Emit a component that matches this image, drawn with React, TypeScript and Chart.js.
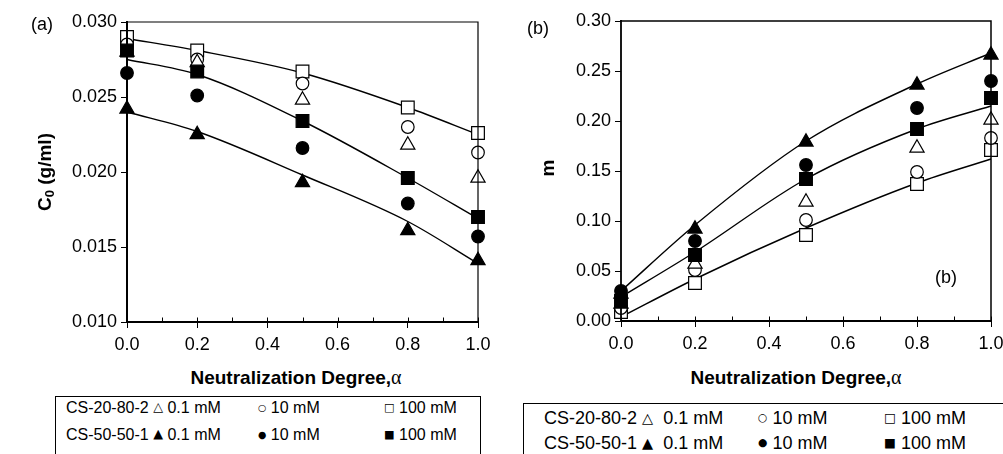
import React, { useEffect, useRef } from "react";
import { Chart, registerables } from "chart.js";

Chart.register(...registerables);

// Neutralization degree (x values)
const alphaValues = [0, 0.2, 0.5, 0.8, 1.0];

// Panel (a): C0 (g/ml)
const c0_2080_01 = [0.028, 0.0273, 0.0248, 0.0218, 0.0196];
const c0_2080_10 = [0.0285, 0.0275, 0.0259, 0.023, 0.0213];
const c0_2080_100 = [0.029, 0.0281, 0.0267, 0.0243, 0.0226];
const c0_5050_01 = [0.0242, 0.0225, 0.0193, 0.0161, 0.0141];
const c0_5050_10 = [0.0266, 0.0251, 0.0216, 0.0179, 0.0157];
const c0_5050_100 = [0.0281, 0.0267, 0.0234, 0.0196, 0.017];
const c0_fitTop = [0.0289, 0.0281, 0.0266, 0.0243, 0.0225];
const c0_fitMid = [0.0275, 0.0265, 0.0234, 0.0196, 0.0169];
const c0_fitBot = [0.024, 0.0227, 0.0198, 0.0167, 0.0139];

// Panel (b): m
const m_2080_01 = [0.017, 0.057, 0.119, 0.173, 0.201];
const m_2080_10 = [0.013, 0.051, 0.101, 0.149, 0.183];
const m_2080_100 = [0.009, 0.038, 0.086, 0.137, 0.171];
const m_5050_01 = [0.027, 0.092, 0.179, 0.236, 0.266];
const m_5050_10 = [0.03, 0.08, 0.156, 0.213, 0.24];
const m_5050_100 = [0.02, 0.066, 0.142, 0.192, 0.223];
const m_fitTop = [0.03, 0.096, 0.18, 0.237, 0.268];
const m_fitMid = [0.024, 0.069, 0.142, 0.192, 0.215];
const m_fitBot = [0.004, 0.042, 0.093, 0.138, 0.162];

const xTickValues = [0, 0.2, 0.4, 0.6, 0.8, 1.0];

const FONT = '"Liberation Sans", Arial, Helvetica, sans-serif';

const toPts = (ys: number[]) => alphaValues.map((x, i) => ({ x, y: ys[i] }));

function marker(label: string, ys: number[], style: string, filled: boolean) {
  const r = style === "rect" ? 9 : style === "circle" ? 6.3 : 8.2;
  return {
    type: "scatter",
    label,
    data: toPts(ys),
    showLine: false,
    pointStyle: style,
    pointRadius: r,
    pointHoverRadius: r,
    pointBackgroundColor: filled ? "#000" : "#fff",
    pointBorderColor: "#000",
    pointBorderWidth: 1.2,
    clip: false,
    order: filled ? 1 : 2,
  };
}

function fit(ys: number[]) {
  return {
    type: "scatter",
    label: "fit",
    data: toPts(ys),
    showLine: true,
    pointRadius: 0,
    borderColor: "#000",
    borderWidth: 1.4,
    cubicInterpolationMode: "monotone",
    fill: false,
    clip: false,
    order: 10,
  };
}

const framePlugin = {
  id: "frame",
  afterDatasetsDraw(chart: any, _args: any, opts: any) {
    const { ctx, chartArea } = chart;
    const { left, right, top, bottom } = chartArea;
    const xs = chart.scales.x;
    ctx.save();
    ctx.strokeStyle = "#000";
    ctx.lineCap = "square";
    ctx.lineWidth = opts.thin || 1.3;
    ctx.beginPath();
    ctx.moveTo(left, top);
    ctx.lineTo(right, top);
    ctx.lineTo(right, bottom);
    ctx.stroke();
    ctx.lineWidth = opts.thick || 2;
    ctx.beginPath();
    ctx.moveTo(left, top);
    ctx.lineTo(left, bottom);
    ctx.lineTo(right, bottom);
    ctx.stroke();
    ctx.lineWidth = 1;
    for (let k = 0; k <= 10; k++) {
      const px = Math.round(xs.getPixelForValue(k / 10)) + 0.5;
      ctx.beginPath();
      ctx.moveTo(px, bottom);
      ctx.lineTo(px, bottom - 4);
      ctx.stroke();
    }
    ctx.restore();
  },
};

function makeConfig(
  datasets: any[],
  yMin: number,
  yMax: number,
  yStep: number,
  yDec: number,
  pad: any,
  yWidth: number,
  xHeight: number,
  frameOpts: any
) {
  return {
    type: "scatter",
    data: { datasets },
    plugins: [framePlugin],
    options: {
      responsive: false,
      animation: false,
      events: [],
      layout: { padding: pad },
      plugins: {
        legend: { display: false },
        tooltip: { enabled: false },
        frame: frameOpts,
      },
      scales: {
        x: {
          type: "linear",
          min: 0,
          max: 1,
          afterBuildTicks: (s: any) => {
            s.ticks = xTickValues.map((v) => ({ value: v }));
          },
          afterFit: (s: any) => {
            s.height = xHeight;
          },
          ticks: {
            color: "#000",
            font: { family: FONT, size: 18 },
            padding: 6,
            maxRotation: 0,
            callback: (v: any) => Number(v).toFixed(1),
          },
          grid: {
            display: true,
            drawOnChartArea: false,
            tickLength: 6,
            color: "#000",
            lineWidth: 1,
          },
          border: { display: false },
        },
        y: {
          type: "linear",
          min: yMin,
          max: yMax,
          ticks: {
            stepSize: yStep,
            color: "#000",
            font: { family: FONT, size: 18 },
            padding: 4,
            callback: (v: any) => Number(v).toFixed(yDec),
          },
          afterFit: (s: any) => {
            s.width = yWidth;
          },
          grid: {
            display: true,
            drawOnChartArea: false,
            tickLength: 6,
            color: "#000",
            lineWidth: 1,
          },
          border: { display: false },
        },
      },
    },
  };
}

const titleStyle: React.CSSProperties = {
  position: "absolute",
  fontFamily: FONT,
  fontWeight: "bold",
  fontSize: 19,
  color: "#000",
  whiteSpace: "nowrap",
  lineHeight: 1,
};

const labelStyle: React.CSSProperties = {
  position: "absolute",
  fontFamily: FONT,
  fontSize: 18,
  color: "#000",
  whiteSpace: "nowrap",
  lineHeight: 1,
};

function XTitle({ cx, cy }: { cx: number; cy: number }) {
  return (
    <div
      style={{
        ...titleStyle,
        left: cx,
        top: cy,
        transform: "translate(-50%, -50%)",
      }}
    >
      Neutralization Degree,
      <span style={{ fontFamily: '"Liberation Serif", "Times New Roman", serif', fontWeight: "normal", fontSize: 20 }}>α</span>
    </div>
  );
}

function LegendBox({
  left,
  top,
  width,
  size,
  cols,
  rows,
  sep,
}: {
  left: number;
  top: number;
  width: number;
  size: number;
  cols: number[];
  rows: number[];
  sep: string;
}) {
  const glyph = (g: string, scale: number) => (
    <span style={{ fontSize: size * scale, fontFamily: '"DejaVu Sans", sans-serif', verticalAlign: "middle", position: "relative", top: -1 }}>{g}</span>
  );
  const cell = (x: number, y: number, g: string, gs: number, text: string, pre: string, key: string) => (
    <span key={key} style={{ position: "absolute", left: x, top: y, fontFamily: FONT, fontSize: size, lineHeight: 1, whiteSpace: "pre", color: "#000" }}>
      {pre}
      {glyph(g, gs)}
      {text}
    </span>
  );
  return (
    <div
      style={{
        position: "absolute",
        left,
        top,
        width,
        height: 90,
        border: "1px solid #000",
        boxSizing: "border-box",
        background: "#fff",
      }}
    >
      {cell(cols[0], rows[0], "\u25B3", 0.8, sep + "0.1 mM", "CS-20-80-2 ", "a1")}
      {cell(cols[1], rows[0], "\u25CB", 0.6, " 10 mM", "", "a2")}
      {cell(cols[2], rows[0], "\u25A1", 0.7, " 100 mM", "", "a3")}
      {cell(cols[0], rows[1], "\u25B2", 0.8, sep + "0.1 mM", "CS-50-50-1 ", "b1")}
      {cell(cols[1], rows[1], "\u25CF", 0.6, " 10 mM", "", "b2")}
      {cell(cols[2], rows[1], "\u25A0", 0.7, " 100 mM", "", "b3")}
    </div>
  );
}

export default function App() {
  const refA = useRef<HTMLCanvasElement>(null);
  const refB = useRef<HTMLCanvasElement>(null);

  useEffect(() => {
    document.body.style.margin = "0";
    const dsA = [
      fit(c0_fitTop),
      fit(c0_fitMid),
      fit(c0_fitBot),
      marker("CS-20-80-2 0.1 mM", c0_2080_01, "triangle", false),
      marker("CS-20-80-2 10 mM", c0_2080_10, "circle", false),
      marker("CS-20-80-2 100 mM", c0_2080_100, "rect", false),
      marker("CS-50-50-1 0.1 mM", c0_5050_01, "triangle", true),
      marker("CS-50-50-1 10 mM", c0_5050_10, "circle", true),
      marker("CS-50-50-1 100 mM", c0_5050_100, "rect", true),
    ];
    const dsB = [
      fit(m_fitTop),
      fit(m_fitMid),
      fit(m_fitBot),
      marker("CS-20-80-2 0.1 mM", m_2080_01, "triangle", false),
      marker("CS-20-80-2 10 mM", m_2080_10, "circle", false),
      marker("CS-20-80-2 100 mM", m_2080_100, "rect", false),
      marker("CS-50-50-1 0.1 mM", m_5050_01, "triangle", true),
      marker("CS-50-50-1 10 mM", m_5050_10, "circle", true),
      marker("CS-50-50-1 100 mM", m_5050_100, "rect", true),
    ];
    const cfgA = makeConfig(dsA, 0.01, 0.03, 0.005, 3, { left: 0, right: 22, top: 22, bottom: 0 }, 127, 38, { thick: 2, thin: 1.2 });
    const cfgB = makeConfig(dsB, 0, 0.3, 0.05, 2, { left: 0, right: 49, top: 21, bottom: 0 }, 121, 39, { thick: 1.8, thin: 1.5 });
    const a = new Chart(refA.current as any, cfgA as any);
    const b = new Chart(refB.current as any, cfgB as any);
    return () => {
      a.destroy();
      b.destroy();
    };
  }, []);

  return (
    <div style={{ position: "relative", width: 1003, height: 454, overflow: "hidden", background: "#fff" }}>
      <canvas ref={refA} width={500} height={360} style={{ position: "absolute", left: 0, top: 0 }} />
      <canvas ref={refB} width={540} height={360} style={{ position: "absolute", left: 500, top: 0 }} />

      {/* Panel (a) texts */}
      <div style={{ ...labelStyle, left: 31, top: 15 }}>(a)</div>
      <div style={{ ...titleStyle, left: 44, top: 172, transform: "translate(-50%, -50%) rotate(-90deg)" }}>
        C<sub style={{ fontSize: 13, verticalAlign: "-3px", lineHeight: 0 }}>0</sub> (g/ml)
      </div>
      <XTitle cx={296} cy={377} />

      {/* Panel (b) texts */}
      <div style={{ ...labelStyle, left: 527, top: 19 }}>(b)</div>
      <div style={{ ...titleStyle, left: 547, top: 168, transform: "translate(-50%, -50%) rotate(-90deg)" }}>m</div>
      <div style={{ ...labelStyle, left: 935, top: 268 }}>(b)</div>
      <XTitle cx={796} cy={377} />

      <LegendBox left={55} top={396} width={426} size={16} cols={[10, 202, 328]} rows={[3, 30]} sep=" " />
      <LegendBox left={523} top={403} width={540} size={18} cols={[20, 234, 360]} rows={[5, 30]} sep={"  "} />
    </div>
  );
}
